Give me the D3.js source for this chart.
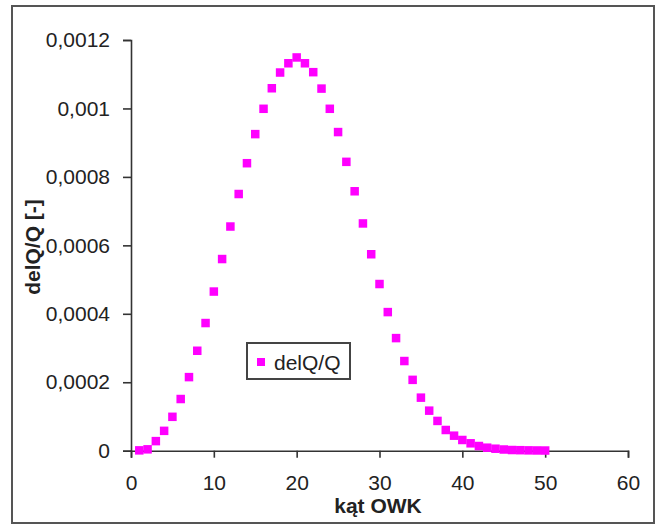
<!DOCTYPE html>
<html>
<head>
<meta charset="utf-8">
<script src="https://cdn.jsdelivr.net/npm/d3@7"></script>
<style>
  html, body { margin: 0; padding: 0; background: #fff; }
  svg { display: block; }
  text { font-family: "Liberation Sans", Arial, sans-serif; fill: #222; }
</style>
</head>
<body>
<svg id="chart" width="656" height="525"></svg>
<script>
// ---- data ----
const angles = d3.range(1, 51); // kąt OWK
const delQ = [
  0.000001, 0.000004, 0.000028, 0.000058, 0.000099, 0.000151, 0.000215, 0.000292, 0.000373, 0.000465,
  0.000560, 0.000655, 0.000750, 0.000840, 0.000925, 0.000999, 0.001059, 0.001105, 0.001132, 0.001149,
  0.001132, 0.001106, 0.001058, 0.000999, 0.000931, 0.000844, 0.000758, 0.000664, 0.000574, 0.000487,
  0.000405, 0.000329, 0.000262, 0.000207, 0.000155, 0.000117, 0.000087, 0.0000605, 0.0000439, 0.0000313,
  0.0000216, 0.0000137, 0.0000088, 0.0000058, 0.0000035, 0.000002, 0.0000015, 0.000001, 0.0000007, 0.0000005
];
const xTicks = [0, 10, 20, 30, 40, 50, 60];
const yTicks = [0, 0.0002, 0.0004, 0.0006, 0.0008, 0.001, 0.0012];
const yTickLabels = ["0", "0,0002", "0,0004", "0,0006", "0,0008", "0,001", "0,0012"];
const seriesName = "delQ/Q";
const xTitle = "kąt OWK";
const yTitle = "delQ/Q [-]";

const svg = d3.select("#chart");

// outer frame
svg.append("rect")
  .attr("x", 12).attr("y", 6).attr("width", 642).attr("height", 517)
  .attr("fill", "none").attr("stroke", "#555").attr("stroke-width", 2);

const x = d3.scaleLinear().domain([0, 60]).range([131, 628]);
const y = d3.scaleLinear().domain([0, 0.0012]).range([450.7, 40]);

const fontFam = "Liberation Sans, Arial, sans-serif";

// y axis
const yAxis = svg.append("g")
  .attr("transform", `translate(${x(0)},0)`)
  .call(d3.axisLeft(y).tickValues(yTicks).tickSize(8).tickPadding(13)
    .tickFormat((d, i) => yTickLabels[i]));
yAxis.select(".domain").attr("stroke", "#333").attr("stroke-width", 1.6);
yAxis.selectAll(".tick line").attr("stroke", "#333").attr("stroke-width", 1.6);
yAxis.selectAll("text").attr("font-size", 21).attr("fill", "#222")
  .attr("font-family", fontFam);

// x axis
const xAxis = svg.append("g")
  .attr("transform", `translate(0,${y(0)})`)
  .call(d3.axisBottom(x).tickValues(xTicks).tickSize(7).tickPadding(17)
    .tickFormat(d3.format("d")));
xAxis.select(".domain").attr("stroke", "#333").attr("stroke-width", 1.6);
xAxis.selectAll(".tick line").attr("stroke", "#333").attr("stroke-width", 1.6);
xAxis.selectAll("text").attr("font-size", 21).attr("fill", "#222")
  .attr("font-family", fontFam);

// points
const pts = angles.map((a, i) => ({ a, v: delQ[i] }));
const s = 8.5;
svg.append("g").selectAll("rect")
  .data(pts).join("rect")
  .attr("x", d => x(d.a) - s / 2)
  .attr("y", d => y(d.v) - s / 2)
  .attr("width", s).attr("height", s)
  .attr("fill", "#ff00ff");

// axis titles
svg.append("text")
  .attr("x", 378).attr("y", 512.5)
  .attr("text-anchor", "middle")
  .attr("font-size", 21).attr("font-weight", "bold")
  .text(xTitle);

svg.append("text")
  .attr("transform", "translate(40,247) rotate(-90)")
  .attr("text-anchor", "middle")
  .attr("font-size", 21).attr("font-weight", "bold")
  .text(yTitle);

// legend
const lg = svg.append("g");
lg.append("rect")
  .attr("x", 247).attr("y", 343).attr("width", 103).attr("height", 36)
  .attr("fill", "#fff").attr("stroke", "#444").attr("stroke-width", 2);
lg.append("rect")
  .attr("x", 257).attr("y", 358).attr("width", 8).attr("height", 8)
  .attr("fill", "#ff00ff");
lg.append("text")
  .attr("x", 274).attr("y", 369.5)
  .attr("font-size", 21)
  .text(seriesName);
</script>
</body>
</html>
